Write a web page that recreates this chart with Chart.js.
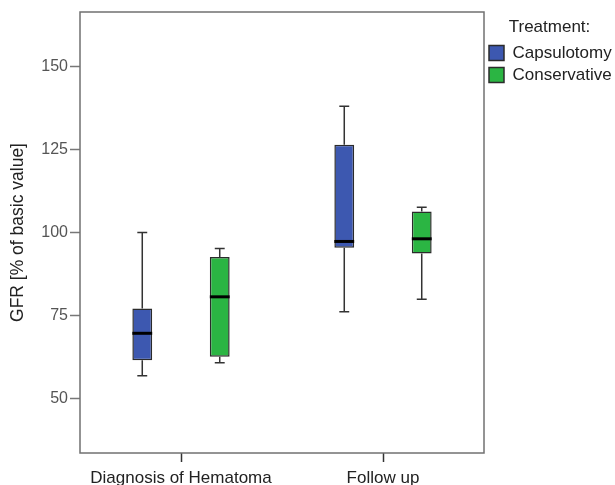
<!DOCTYPE html>
<html>
<head>
<meta charset="utf-8">
<script src="https://cdn.jsdelivr.net/npm/chart.js@4.4.1/dist/chart.umd.min.js"></script>
<style>
  html, body { margin: 0; padding: 0; background: #fff; }
  #wrap { width: 615px; height: 485px; }
</style>
</head>
<body>
<div id="wrap"><canvas id="grafico"></canvas></div>
<script>
// categorias e valores (box plot: min, Q1, mediana, Q3, max)
const categories = ["Diagnosis of Hematoma", "Follow up"];

const capsMin = [56.8, 76.1];
const capsQ1 = [61.5, 95.4];
const capsMedian = [69.6, 97.3];
const capsQ3 = [77.1, 126.5];
const capsMax = [100, 138.1];

const consMin = [60.7, 79.9];
const consQ1 = [62.5, 93.7];
const consMedian = [80.6, 98.1];
const consQ3 = [92.6, 106.3];
const consMax = [95.2, 107.6];

const yTicks = [50, 75, 100, 125, 150];

const fonte = "'Liberation Sans', Arial, sans-serif";

function caixa(q1, q3) {
    return q1.map((v, i) => [v, q3[i]]);
}

// bigodes e medianas desenhados usando as escalas do gráfico
const bigodes = {
    id: "bigodes",
    afterDatasetsDraw(chart) {
        const ctx = chart.ctx;
        const y = chart.scales.y;
        chart.data.datasets.forEach((ds, di) => {
            const meta = chart.getDatasetMeta(di);
            meta.data.forEach((bar, i) => {
                const x = bar.x;
                const w = bar.width;
                const pMin = y.getPixelForValue(ds.stats.min[i]);
                const pQ1 = y.getPixelForValue(ds.stats.q1[i]);
                const pQ3 = y.getPixelForValue(ds.stats.q3[i]);
                const pMax = y.getPixelForValue(ds.stats.max[i]);
                const pMed = y.getPixelForValue(ds.stats.median[i]);

                ctx.save();
                ctx.strokeStyle = "#333";
                ctx.lineWidth = 1.5;
                ctx.beginPath();
                ctx.moveTo(x, pQ3);
                ctx.lineTo(x, pMax);
                ctx.moveTo(x - w / 4, pMax);
                ctx.lineTo(x + w / 4, pMax);
                ctx.moveTo(x, pQ1);
                ctx.lineTo(x, pMin);
                ctx.moveTo(x - w / 4, pMin);
                ctx.lineTo(x + w / 4, pMin);
                ctx.stroke();

                ctx.strokeStyle = "#000";
                ctx.lineWidth = 3;
                ctx.beginPath();
                ctx.moveTo(x - w / 2, pMed);
                ctx.lineTo(x + w / 2, pMed);
                ctx.stroke();
                ctx.restore();
            });
        });
    },
};

const moldura = {
    id: "moldura",
    beforeDatasetsDraw(chart) {
        const a = chart.chartArea;
        const ctx = chart.ctx;
        ctx.save();
        ctx.strokeStyle = "#707070";
        ctx.lineWidth = 1.5;
        ctx.strokeRect(a.left, a.top, a.right - a.left, a.bottom - a.top);
        ctx.restore();
    },
};

new Chart(document.getElementById("grafico"), {
    type: "bar",
    data: {
        labels: categories,
        datasets: [
            {
                label: "Capsulotomy",
                data: caixa(capsQ1, capsQ3),
                stats: { min: capsMin, q1: capsQ1, median: capsMedian, q3: capsQ3, max: capsMax },
                backgroundColor: "#3d58b0",
                borderColor: "#2b2b2b",
                borderWidth: 1.5,
                borderSkipped: false,
            },
            {
                label: "Conservative",
                data: caixa(consQ1, consQ3),
                stats: { min: consMin, q1: consQ1, median: consMedian, q3: consQ3, max: consMax },
                backgroundColor: "#2bb543",
                borderColor: "#2b2b2b",
                borderWidth: 1.5,
                borderSkipped: false,
            },
        ],
    },
    options: {
        responsive: true,
        maintainAspectRatio: false,
        animation: false,
        barPercentage: 0.256,
        categoryPercentage: 0.767,
        layout: { padding: { top: 12 } },
        plugins: {
            tooltip: { enabled: false },
            legend: {
                display: true,
                position: "right",
                align: "start",
                maxWidth: 131,
                title: {
                    display: true,
                    text: "Treatment:",
                    position: "center",
                    color: "#222",
                    font: { family: fonte, size: 17 },
                    padding: { top: 7, bottom: 0 },
                },
                labels: {
                    boxWidth: 15,
                    boxHeight: 15,
                    padding: 5,
                    color: "#222",
                    font: { family: fonte, size: 17 },
                },
            },
        },
        scales: {
            x: {
                afterFit(scale) { scale.height = 32; },
                border: { display: false },
                grid: {
                    offset: false,
                    drawOnChartArea: false,
                    tickLength: 9,
                    tickColor: "#333",
                    tickWidth: 1.5,
                },
                ticks: {
                    padding: 6,
                    color: "#222",
                    font: { family: fonte, size: 17 },
                },
            },
            y: {
                min: 33.5,
                max: 166.5,
                afterFit(scale) { scale.width = 80; },
                afterBuildTicks(scale) {
                    scale.ticks = yTicks.map((v) => ({ value: v }));
                },
                border: { display: false },
                grid: {
                    drawOnChartArea: false,
                    tickLength: 10,
                    tickColor: "#777",
                    tickWidth: 1.5,
                },
                ticks: {
                    padding: 2,
                    color: "#555",
                    font: { family: fonte, size: 16 },
                },
                title: {
                    display: true,
                    text: "GFR [% of basic value]",
                    color: "#222",
                    font: { family: fonte, size: 17.5 },
                    padding: { top: 7.5, bottom: 0 },
                },
            },
        },
    },
    plugins: [moldura, bigodes],
});
</script>
</body>
</html>
